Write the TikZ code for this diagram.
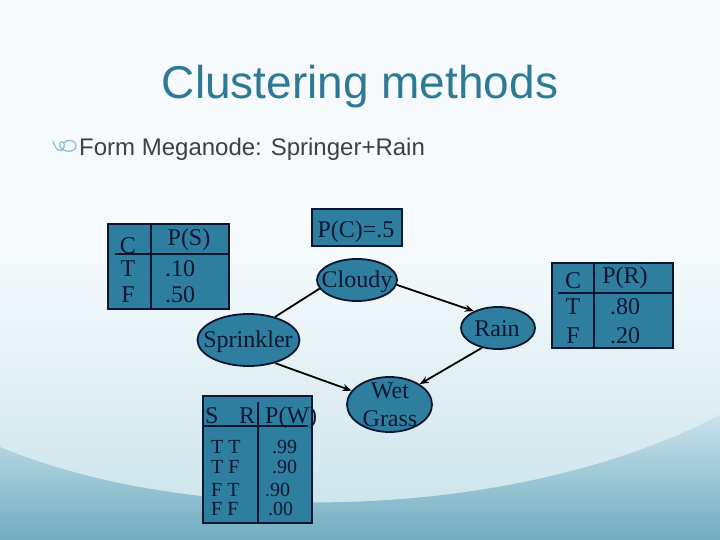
\documentclass[tikz,border=0pt]{standalone}
\usepackage{fontspec}
\setmainfont{Liberation Serif}
\newfontfamily\arialf{Liberation Sans}
\usetikzlibrary{shapes.geometric,arrows.meta}
\definecolor{nodefill}{RGB}{46,126,160}
\definecolor{inktext}{RGB}{12,22,48}
\definecolor{titlec}{RGB}{46,122,150}
\definecolor{bullettext}{RGB}{64,64,64}
\definecolor{bgtop}{RGB}{246,250,252}
\definecolor{bgmid}{RGB}{200,226,234}
\definecolor{bgbot}{RGB}{112,172,192}
\definecolor{swirlc}{RGB}{140,190,205}
\begin{document}
\begin{tikzpicture}[x=1pt,y=-1pt,
 ell/.style={ellipse, draw=inktext, fill=nodefill, line width=1.8pt, inner sep=0pt},
 tbox/.style={rectangle, draw=inktext, fill=nodefill, line width=2pt, inner sep=0pt},
 lbl/.style={inner sep=0pt, anchor=base, text=inktext, font=\fontsize{24}{28}\selectfont},
 lblw/.style={lbl, anchor=base west},
 rowtxt/.style={lblw, font=\fontsize{20}{22}\selectfont},
 rule/.style={draw=inktext, line width=2pt},
 edge/.style={draw=black, line width=1.8pt},
 arr/.style={edge, -{Stealth[length=9pt,width=7pt]}}
]
\useasboundingbox (0,0) rectangle (720,540);
% background
\fill[bgtop] (0,0) rectangle (720,540);
\shade[top color=bgtop, bottom color=bgmid] (0,250) rectangle (720,540);
\shade[top color=bgmid, bottom color=bgbot] (0,447) .. controls (200,530) and (520,520) .. (720,415) -- (720,540) -- (0,540) -- cycle;

% title and bullet
\node[font=\arialf\fontsize{46}{52}\selectfont, text=titlec, anchor=base, inner sep=0pt] (title) at (360,99) {Clustering methods};
\draw[swirlc, line width=1.2pt] (53,141) .. controls (56,152) and (62,153) .. (64,147) .. controls (66,141) and (58,139) .. (60,146) .. controls (62,153) and (76,153) .. (76,146) .. controls (76,139) and (66,139) .. (64,143);
\node[font=\arialf\fontsize{24}{28}\selectfont, text=bullettext, anchor=base west, inner sep=0pt] (bullet) at (79,156) {Form Meganode: Springer+Rain};

% ellipses
\node[ell, minimum width=80pt, minimum height=42pt] (cloudy) at (357,280) {};
\node[ell, minimum width=102pt, minimum height=52pt] (spr) at (248.5,340) {};
\node[ell, minimum width=74pt, minimum height=42pt] (rain) at (498,328) {};
\node[ell, minimum width=85pt, minimum height=55pt] (wet) at (389.5,404.5) {};
\node[lbl] (cloudyt) at (357,287) {Cloudy};
\node[lbl] (sprt) at (248,347) {Sprinkler};
\node[lbl] (raint) at (497,336) {Rain};
\node[lbl] (wett) at (390,398) {Wet};
\node[lbl] (grasst) at (390,426) {Grass};

% edges
\draw[edge] (cloudy.193) -- (spr.41);
\draw[arr] (cloudy.353) -- (rain.145);
\draw[arr] (spr.319) -- (wet.160);
\draw[arr] (rain.231) -- (wet.34);

% P(C)
\node[tbox, minimum width=90pt, minimum height=37pt] (pc) at (357,227.5) {};
\node[lbl] (pct) at (356,237) {P(C)=.5};

% P(S) table
\node[tbox, minimum width=121pt, minimum height=85pt] (ps) at (168.5,266.5) {};
\draw[rule] (151,224) -- (151,309);
\draw[rule] (115,254) -- (229,254);
\node[lbl] (psC) at (128,253) {C};
\node[lbl] (psH) at (189,245) {P(S)};
\node[lbl] (psT) at (128,276) {T};
\node[lblw] (psT1) at (165,276) {.10};
\node[lbl] (psF) at (128,302) {F};
\node[lblw] (psF1) at (165,302) {.50};

% P(R) table
\node[tbox, minimum width=121pt, minimum height=85pt] (pr) at (612.5,305.5) {};
\draw[rule] (594,263) -- (594,348);
\draw[rule] (558,293) -- (673,293);
\node[lbl] (prC) at (573,288) {C};
\node[lbl] (prH) at (625,283) {P(R)};
\node[lbl] (prT) at (573,314) {T};
\node[lblw] (prT1) at (610,314) {.80};
\node[lbl] (prF) at (573,343) {F};
\node[lblw] (prF1) at (610,343) {.20};

% P(W) table
\node[tbox, minimum width=109pt, minimum height=127pt] (pw) at (257.5,459.5) {};
\draw[rule] (258,402) -- (258,523);
\draw[rule] (203,426) -- (308,426);
\node[lblw] (pwS) at (205,423) {S};
\node[lblw] (pwR) at (239,423) {R};
\node[lblw] (pwH) at (265,423) {P(W)};
\node[rowtxt] (r1a) at (211,453) {T T};
\node[rowtxt] (r1b) at (272,453) {.99};
\node[rowtxt] (r2a) at (211,473) {T F};
\node[rowtxt] (r2b) at (272,473) {.90};
\node[rowtxt] (r3a) at (211,496) {F T};
\node[rowtxt] (r3b) at (265,496) {.90};
\node[rowtxt] (r4a) at (211,515) {F F};
\node[rowtxt] (r4b) at (268,515) {.00};
\end{tikzpicture}
\end{document}
